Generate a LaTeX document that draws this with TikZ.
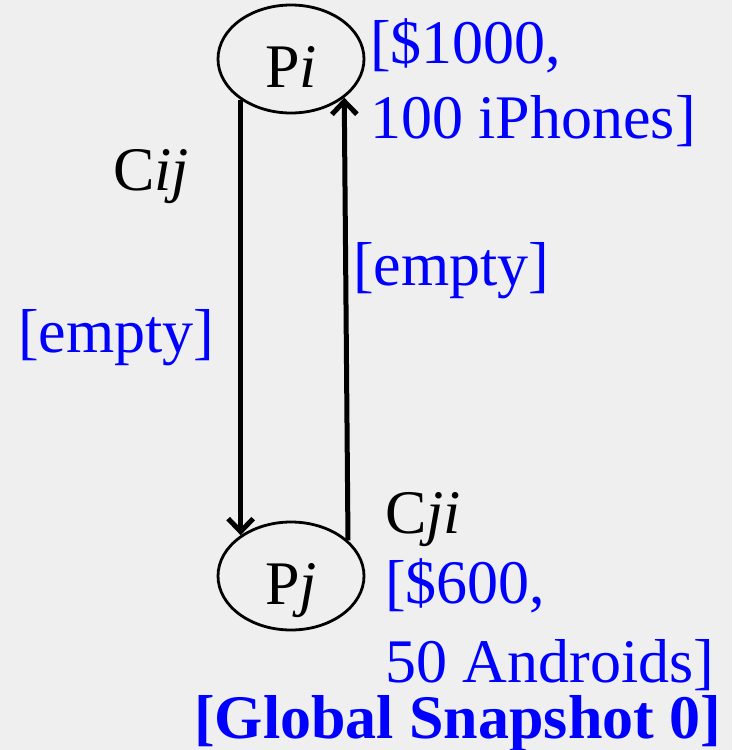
\documentclass[tikz,border=0pt]{standalone}
\usepackage{fontspec}
\setmainfont{Liberation Serif}
\usepackage{tikz}
\usetikzlibrary{arrows.meta, shapes.geometric, positioning}
\definecolor{bggray}{RGB}{239,239,239}
\definecolor{snapblue}{RGB}{0,0,255}
\tikzset{
	proc/.style={ellipse, draw, line width=2.8pt, inner sep=0pt,
		minimum width=146pt, minimum height=108pt,
		text height=56pt, text depth=0pt, font=\fontsize{62}{75}\selectfont}
}
\tikzset{
	chan/.style={line width=5pt, -{Straight Barb[length=13pt,width=25pt]}}
}
\tikzset{
	blacktext/.style={anchor=base west, inner sep=0pt, font=\fontsize{62}{75}\selectfont},
	bluetext/.style={blacktext, text=snapblue, align=left}
}
\newcommand{\chn}[1]{C\textit{#1}}

\begin{document}
\begin{tikzpicture}[x=1pt, y=-1pt]
      \fill[bggray] (0,0) rectangle (732,750);
      \useasboundingbox (0,0) rectangle (732,750);

      \node[proc] (pi) at (291,59) {P\textit{i}};
      \node[proc] (pj) at (291,576) {P\textit{j}};

      % channels between the two processes
      \draw[chan] (pi.219) -- (pj.141);
      \draw[chan] (pj.32) -- (pi.-36);

      \node[blacktext] (cij) at (113,190) {\chn{ij}};
      \node[blacktext] (cji) at (385,533) {\chn{ji}};
      \node[bluetext] (qij) at (18,352) {[empty]};
      \node[bluetext] (qji) at (353,285) {[empty]};

      % process states (base anchor sits on the last line)
      \node[bluetext] (si) at (370,138) {[\$1000,\\100 iPhones]};
      \node[bluetext] (sj) at (385,682) {[\$600,\\[4pt]50 Androids]};

      \node[bluetext, font=\fontsize{62}{75}\selectfont\bfseries] (snap) at (194,738) {[Global Snapshot 0]};
    \end{tikzpicture}
\end{document}
